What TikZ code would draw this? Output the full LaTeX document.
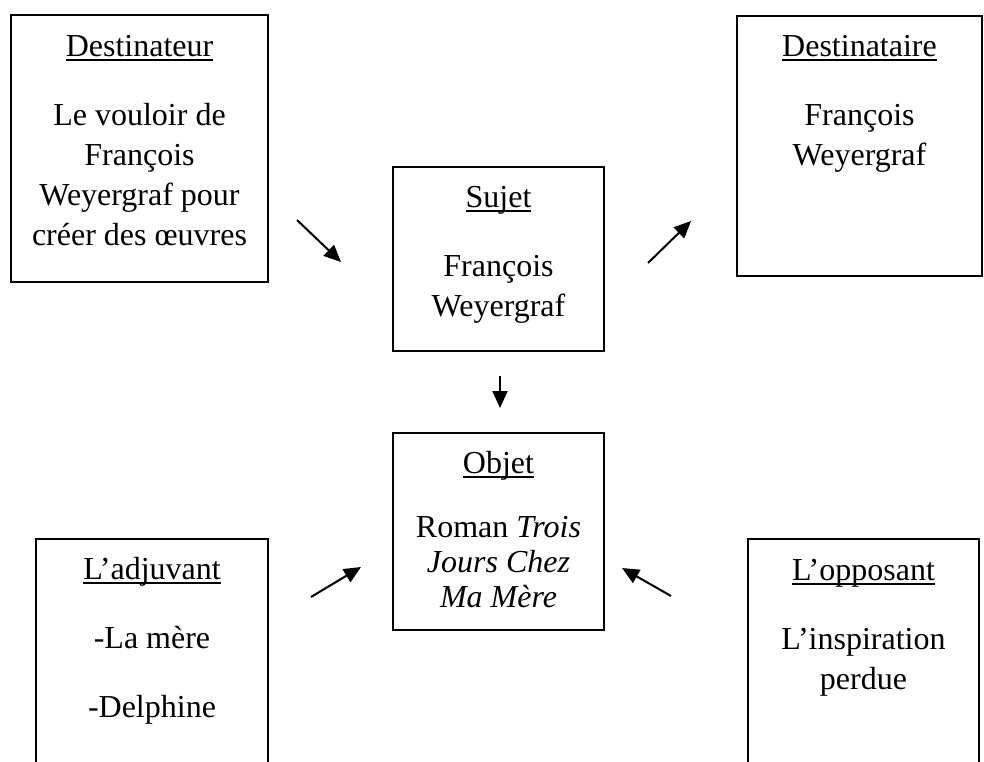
\documentclass[tikz,border=0pt]{standalone}
\usepackage{fontspec}
\setmainfont{Liberation Serif}
\usetikzlibrary{arrows.meta}
\newcommand\myul[1]{\setbox0\hbox{#1}\rlap{\rule[-4.7pt]{\wd0}{2pt}}\box0}
\newcommand\topstrut{\rule{0pt}{28pt}}
\begin{document}
\begin{tikzpicture}[x=1pt,y=-1pt,
  box/.style={draw, line width=2pt, rectangle, inner sep=0pt, outer sep=0pt, anchor=north west},
  txt/.style={anchor=north, align=center, inner sep=0pt, font=\fontsize{32}{40}\selectfont},
  txtb/.style={txt, font=\fontsize{32}{35}\selectfont},
  arr/.style={line width=2pt, -{Triangle[length=17pt,width=15pt]}}]
\clip (0,0) rectangle (984,761);
\fill[white] (0,0) rectangle (984,761);

% boxes
\node[box, minimum width=257pt, minimum height=267pt] (dest) at (11,15) {};
\node[box, minimum width=245pt, minimum height=260pt] (desta) at (737,16) {};
\node[box, minimum width=211pt, minimum height=184pt] (suj) at (393,167) {};
\node[box, minimum width=211pt, minimum height=197pt] (obj) at (393,433) {};
\node[box, minimum width=232pt, minimum height=300pt] (adj) at (36,539) {};
\node[box, minimum width=231pt, minimum height=300pt] (opp) at (748,539) {};

% texts
\node[txt] (destT) at (139.5,28) {\topstrut\myul{Destinateur}\\[29pt]Le vouloir de\\François\\Weyergraf pour\\créer des œuvres};
\node[txt] (destaT) at (859.5,28) {\topstrut\myul{Destinataire}\\[29pt]François\\Weyergraf};
\node[txt] (sujT) at (498.5,179) {\topstrut\myul{Sujet}\\[29pt]François\\Weyergraf};
\node[txtb] (objT) at (498.5,445) {\topstrut\myul{Objet}\\[29pt]Roman \textit{Trois}\\\textit{Jours Chez}\\\textit{Ma Mère}};
\node[txt] (adjT) at (152,551) {\topstrut\myul{L’adjuvant}\\[29pt]-La mère\\[29pt]-Delphine};
\node[txt] (oppT) at (863.5,552) {\topstrut\myul{L’opposant}\\[29pt]L’inspiration\\perdue};

% arrow ends
\coordinate (a1s) at (297,220); \coordinate (a1e) at (341,262);
\coordinate (a2s) at (648,263); \coordinate (a2e) at (691,221);
\coordinate (a3s) at (500,376); \coordinate (a3e) at (500,408);
\coordinate (a4s) at (311,597); \coordinate (a4e) at (361,567);
\coordinate (a5s) at (671,596); \coordinate (a5e) at (622,568);

\draw[arr] (a1s) -- (a1e);
\draw[arr] (a2s) -- (a2e);
\draw[arr] (a3s) -- (a3e);
\draw[arr] (a4s) -- (a4e);
\draw[arr] (a5s) -- (a5e);
\end{tikzpicture}
\end{document}
